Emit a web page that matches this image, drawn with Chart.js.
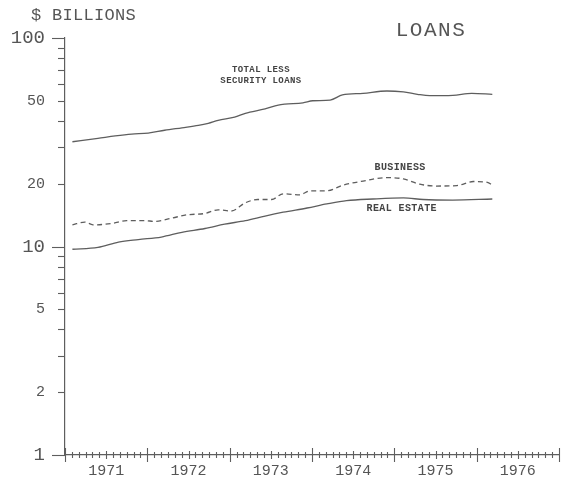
<!DOCTYPE html>
<html>
<head>
<meta charset="utf-8">
<script src="https://cdn.jsdelivr.net/npm/chart.js@4/dist/chart.umd.min.js"></script>
<style>
  html, body { margin: 0; padding: 0; background: #fff; }
  #wrap { width: 563px; height: 479px; }
</style>
</head>
<body>
<div id="wrap"><canvas id="loans"></canvas></div>
<script>
// values (x = year, decimal)
const totalYears = [1971.09, 1971.40, 1971.61, 1971.81, 1972.01, 1972.21, 1972.42, 1972.62, 1972.74, 1972.86,
    1973.06, 1973.19, 1973.43, 1973.59, 1973.67, 1973.89, 1974.01, 1974.22, 1974.37, 1974.62,
    1974.91, 1975.11, 1975.28, 1975.43, 1975.71, 1975.94, 1976.19];
const totalValues = [31.8, 33.0, 33.9, 34.6, 35.0, 36.1, 37.1, 38.1, 39.0, 40.3,
    41.7, 43.5, 45.7, 47.7, 48.2, 48.9, 50.0, 50.4, 53.3, 54.3,
    55.7, 55.1, 53.7, 52.9, 53.1, 54.3, 53.7];

const businessYears = [1971.09, 1971.24, 1971.34, 1971.57, 1971.75, 1971.97, 1972.09, 1972.30, 1972.49, 1972.70,
    1972.86, 1973.02, 1973.19, 1973.34, 1973.51, 1973.65, 1973.85, 1973.98, 1974.18, 1974.38,
    1974.62, 1974.91, 1975.11, 1975.31, 1975.51, 1975.76, 1975.96, 1976.13, 1976.19];
const businessValues = [12.7, 13.1, 12.7, 12.9, 13.3, 13.3, 13.2, 13.7, 14.2, 14.4,
    15.0, 14.8, 16.2, 16.8, 16.8, 17.9, 17.7, 18.5, 18.5, 19.7,
    20.6, 21.4, 21.1, 19.9, 19.5, 19.6, 20.5, 20.3, 19.7];

const realEstateYears = [1971.09, 1971.40, 1971.65, 1971.89, 1972.17, 1972.42, 1972.70, 1972.94, 1973.19, 1973.43,
    1973.65, 1973.94, 1974.18, 1974.42, 1974.74, 1975.11, 1975.35, 1975.71, 1976.19];
const realEstateValues = [9.7, 9.9, 10.5, 10.8, 11.1, 11.7, 12.2, 12.8, 13.3, 14.0,
    14.6, 15.3, 16.0, 16.6, 16.9, 17.1, 16.8, 16.7, 16.9];

const yearLabels = [1971, 1972, 1973, 1974, 1975, 1976];
const yTickValues = [1, 2, 5, 10, 20, 50, 100];

const ink = '#5e5e5e';
const textInk = '#555';

function zip(xs, ys) {
    return xs.map((x, i) => ({ x: x, y: ys[i] }));
}

// hand-drawn style tick marks and free text
const plotterMarks = {
    id: 'plotterMarks',
    afterDraw(chart) {
        const ctx = chart.ctx;
        const xs = chart.scales.x;
        const ys = chart.scales.y;
        const area = chart.chartArea;
        ctx.save();
        ctx.strokeStyle = ink;
        ctx.lineWidth = 1.1;

        // y ticks, pointing left
        for (let dec = 1; dec < 100; dec *= 10) {
            for (let k = 1; k < 10; k++) {
                const v = dec * k;
                const py = Math.round(ys.getPixelForValue(v)) + 0.5;
                const len = k === 1 ? 13 : 7;
                ctx.beginPath();
                ctx.moveTo(area.left - len, py);
                ctx.lineTo(area.left, py);
                ctx.stroke();
            }
        }
        const pTop = Math.round(ys.getPixelForValue(100)) + 0.5;
        ctx.beginPath();
        ctx.moveTo(area.left - 13, pTop);
        ctx.lineTo(area.left, pTop);
        ctx.stroke();

        // x ticks, monthly crosses
        for (let m = 0; m <= 72; m++) {
            const px = Math.round(xs.getPixelForValue(1971 + m / 12)) + 0.5;
            let up = 3, down = 3;
            if (m % 12 === 0) { up = 7; down = 7; }
            else if (m % 6 === 0) { up = 4; down = 4; }
            ctx.beginPath();
            ctx.moveTo(px, area.bottom - up);
            ctx.lineTo(px, area.bottom + down);
            ctx.stroke();
        }

        // text
        ctx.fillStyle = textInk;
        ctx.textBaseline = 'middle';
        ctx.textAlign = 'left';
        ctx.font = '17px "Liberation Mono"';
        ctx.letterSpacing = '0.3px';
        ctx.fillText('$ BILLIONS', 31, 15);

        ctx.textAlign = 'center';
        ctx.font = '21px "Liberation Mono"';
        ctx.letterSpacing = '1.5px';
        ctx.fillText('LOANS', 431, 30);

        ctx.fillStyle = '#444';
        ctx.font = 'bold 9px "Liberation Mono"';
        ctx.letterSpacing = '0.4px';
        ctx.fillText('TOTAL LESS', xs.getPixelForValue(1973.38), ys.getPixelForValue(70.2));
        ctx.fillText('SECURITY LOANS', xs.getPixelForValue(1973.38), ys.getPixelForValue(62.5));
        ctx.font = 'bold 10px "Liberation Mono"';
        ctx.fillText('BUSINESS', xs.getPixelForValue(1975.07), ys.getPixelForValue(23.8));
        ctx.fillText('REAL ESTATE', xs.getPixelForValue(1975.09), ys.getPixelForValue(15.2));
        ctx.restore();
    }
};

const lineStyle = {
    borderColor: ink,
    borderWidth: 1.3,
    pointRadius: 0,
    fill: false,
    cubicInterpolationMode: 'monotone'
};

new Chart(document.getElementById('loans').getContext('2d'), {
    type: 'line',
    data: {
        datasets: [
            Object.assign({ label: 'Total less security loans', data: zip(totalYears, totalValues) }, lineStyle),
            Object.assign({ label: 'Business', data: zip(businessYears, businessValues), borderDash: [5, 3.5] }, lineStyle),
            Object.assign({ label: 'Real estate', data: zip(realEstateYears, realEstateValues) }, lineStyle)
        ]
    },
    options: {
        responsive: true,
        maintainAspectRatio: false,
        animation: false,
        layout: { padding: { top: 38, right: 4, left: 0, bottom: 0 } },
        plugins: {
            legend: { display: false },
            tooltip: { enabled: false }
        },
        scales: {
            x: {
                type: 'linear',
                min: 1971,
                max: 1977,
                grid: { display: false, drawTicks: false },
                border: { color: ink, width: 1.2 },
                afterBuildTicks: s => { s.ticks = yearLabels.map(y => ({ value: y + 0.5 })); },
                afterFit: s => { s.height = 24; s.paddingLeft = 0; s.paddingRight = 0; },
                ticks: {
                    padding: 7,
                    maxRotation: 0,
                    color: textInk,
                    font: { family: 'Liberation Mono', size: 15 },
                    callback: v => String(Math.floor(v))
                }
            },
            y: {
                type: 'logarithmic',
                min: 1,
                max: 100,
                grid: { display: false, drawTicks: false },
                border: { color: ink, width: 1.2 },
                afterBuildTicks: s => { s.ticks = yTickValues.map(v => ({ value: v })); },
                afterFit: s => { s.width = 65; s.paddingTop = 0; s.paddingBottom = 0; },
                ticks: {
                    padding: 20,
                    color: textInk,
                    font: c => ({
                        family: 'Liberation Mono',
                        size: [1, 10, 100].includes(c.tick && c.tick.value) ? 19 : 15
                    }),
                    callback: v => String(v)
                }
            }
        }
    },
    plugins: [plotterMarks]
});
</script>
</body>
</html>
